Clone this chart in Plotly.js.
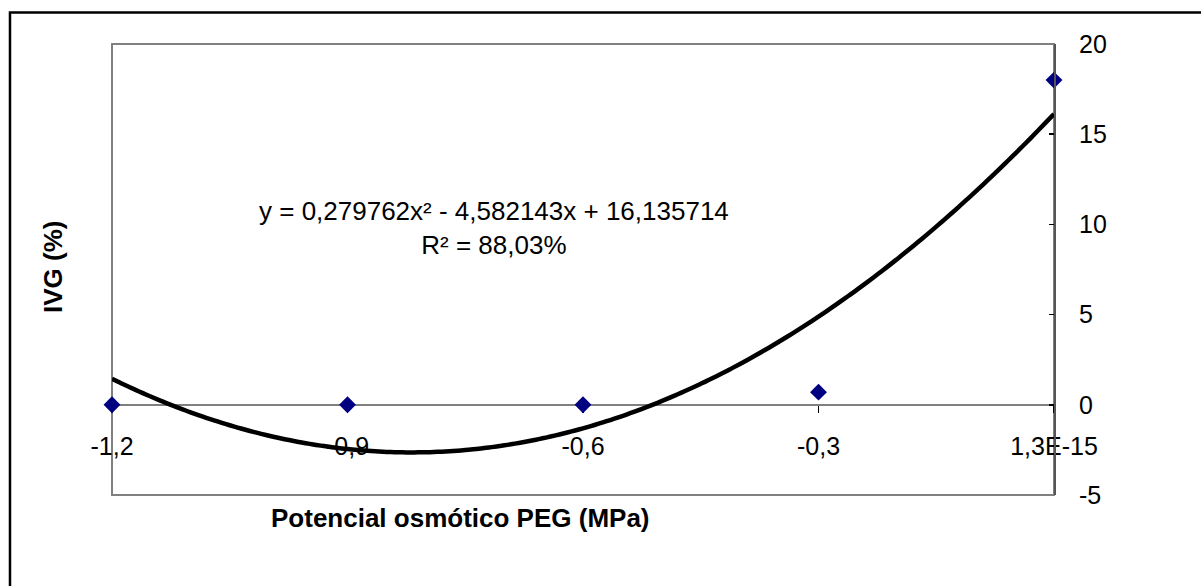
<!DOCTYPE html>
<html>
<head>
<meta charset="utf-8">
<script src="https://cdn.plot.ly/plotly-3.0.1.min.js"></script>
<style>html,body{margin:0;padding:0;background:#fff;}#chart{width:1201px;height:586px;}</style>
</head>
<body>
<div id="chart"></div>
<script>
// Data
const potencial = [-1.2, -0.9, -0.6, -0.3, 0];
const ivg = [0, 0, 0, 0.7, 18];
const xTickVals = [-1.2, -0.9, -0.6, -0.3, 0];
const xTickText = ["-1,2", "-0,9", "-0,6", "-0,3", "1,3E-15"];
const yTickVals = [-5, 0, 5, 10, 15, 20];
const yTickText = ["-5", "0", "5", "10", "15", "20"];
const equationText = "y = 0,279762x² - 4,582143x + 16,135714<br>R² = 88,03%";
const xTitle = "Potencial osmótico PEG (MPa)";
const yTitle = "IVG (%)";

// Polynomial (order 2) least-squares trendline computed from the data
function quadFit(xs, ys) {
  const n = xs.length;
  let S = [0,0,0,0,0], T = [0,0,0];
  for (let i = 0; i < n; i++) {
    let p = 1;
    for (let k = 0; k < 5; k++) { S[k] += p; p *= xs[i]; }
    p = 1;
    for (let k = 0; k < 3; k++) { T[k] += p * ys[i]; p *= xs[i]; }
  }
  const A = [[S[0],S[1],S[2],T[0]],[S[1],S[2],S[3],T[1]],[S[2],S[3],S[4],T[2]]];
  for (let c = 0; c < 3; c++) {
    for (let r = c + 1; r < 3; r++) {
      const f = A[r][c] / A[c][c];
      for (let k = c; k < 4; k++) A[r][k] -= f * A[c][k];
    }
  }
  const coef = [0,0,0];
  for (let r = 2; r >= 0; r--) {
    let s = A[r][3];
    for (let k = r + 1; k < 3; k++) s -= A[r][k] * coef[k];
    coef[r] = s / A[r][r];
  }
  return coef;
}
const cf = quadFit(potencial, ivg);
const xMin = Math.min(...potencial), xMax = Math.max(...potencial);
const trendX = [], trendY = [];
for (let i = 0; i <= 120; i++) {
  const x = xMin + (xMax - xMin) * i / 120;
  trendX.push(x);
  trendY.push(cf[0] + cf[1] * x + cf[2] * x * x);
}

const FONT = "Liberation Sans, Arial, sans-serif";

const traces = [
  {
    x: trendX, y: trendY, type: "scatter", mode: "lines",
    line: {color: "#000000", width: 4.5, shape: "spline"},
    hoverinfo: "skip", cliponaxis: false, showlegend: false
  },
  {
    x: potencial, y: ivg, type: "scatter", mode: "markers",
    marker: {symbol: "diamond", size: 13, color: "#000080"},
    cliponaxis: false, showlegend: false
  }
];

const layout = {
  width: 1201, height: 586,
  margin: {l: 112, r: 147, t: 44, b: 91},
  paper_bgcolor: "#ffffff", plot_bgcolor: "#ffffff",
  font: {family: FONT, size: 25, color: "#000000"},
  showlegend: false,
  xaxis: {
    range: [xMin, xMax],
    tickmode: "array", tickvals: xTickVals, ticktext: xTickText,
    showgrid: false, zeroline: false,
    showline: true, linecolor: "#808080", linewidth: 2,
    anchor: "free", position: 0.2,
    ticks: "outside", ticklen: 7, tickwidth: 1.5, tickcolor: "#000000",
    ticklabelstandoff: 12,
    tickfont: {family: FONT, size: 25, color: "#000000"},
    layer: "below traces"
  },
  yaxis: {
    range: [-5, 20], side: "right",
    tickmode: "array", tickvals: yTickVals, ticktext: yTickText,
    showgrid: false, zeroline: false,
    showline: true, linecolor: "#555555", linewidth: 2,
    ticks: "inside", ticklen: 5, tickwidth: 1.5, tickcolor: "#000000",
    ticklabelstandoff: 18,
    tickfont: {family: FONT, size: 25, color: "#000000"}
  },
  shapes: [
    {type: "rect", xref: "paper", yref: "paper", x0: 0, x1: 1, y0: 0, y1: 1,
     line: {color: "#808080", width: 2}, layer: "below"},
    {type: "rect", xref: "paper", yref: "paper", x0: -0.1083, x1: 1.3, y0: -0.5, y1: 1.0698,
     line: {color: "#000000", width: 2.5}, layer: "below"}
  ],
  annotations: [
    {text: equationText, xref: "paper", yref: "paper",
     x: (494 - 112) / 942, y: (495 - 228) / 451, xanchor: "center", yanchor: "middle",
     showarrow: false, align: "center", font: {family: FONT, size: 26, color: "#000000"}},
    {text: "<b>" + xTitle + "</b>", xref: "paper", yref: "paper",
     x: (460 - 112) / 942, y: (495 - 518) / 451, xanchor: "center", yanchor: "middle",
     showarrow: false, font: {family: FONT, size: 26, color: "#000000"}},
    {text: "<b>" + yTitle + "</b>", xref: "paper", yref: "paper",
     x: (53 - 112) / 942, y: (495 - 267) / 451, xanchor: "center", yanchor: "middle",
     textangle: -90, showarrow: false, font: {family: FONT, size: 26, color: "#000000"}}
  ]
};

Plotly.newPlot("chart", traces, layout, {displayModeBar: false, staticPlot: true});
</script>
</body>
</html>
